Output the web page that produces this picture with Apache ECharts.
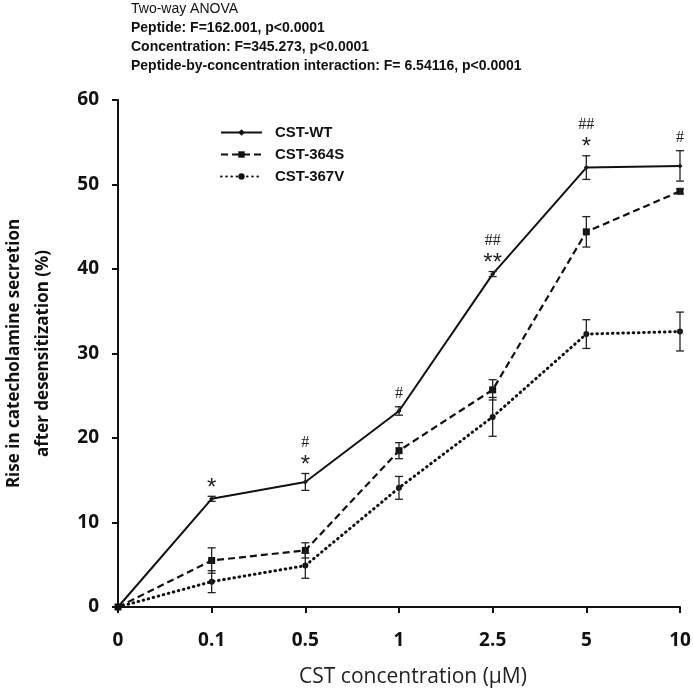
<!DOCTYPE html>
<html><head><meta charset="utf-8">
<script src="https://cdn.jsdelivr.net/npm/echarts@6/dist/echarts.min.js"></script>
<style>html,body{margin:0;padding:0;background:#fff}#c{width:693px;height:691px}</style>
</head><body><div id="c"></div>
<script>
const categories = ['0', '0.1', '0.5', '1', '2.5', '5', '10'];
const yTicks = [0, 10, 20, 30, 40, 50, 60];
const seriesNames = ['CST-WT', 'CST-364S', 'CST-367V'];
const wtValues = [0, 12.8, 14.8, 23.2, 39.4, 52.0, 52.2];
const wtErrors = [0, 0.3, 1.0, 0.5, 0.3, 1.4, 1.8];
const s364Values = [0, 5.5, 6.7, 18.5, 25.7, 44.4, 49.2];
const s364Errors = [0, 1.5, 0.9, 0.95, 1.2, 1.8, 0.3];
const s367Values = [0, 3.0, 4.9, 14.1, 22.5, 32.3, 32.6];
const s367Errors = [0, 1.3, 1.5, 1.35, 2.3, 1.7, 2.3];
const wtStars = ['', '*', '*', '', '**', '*', ''];
const wtHashes = ['', '', '#', '#', '##', '##', '#'];
const headerLines = [
  'Two-way ANOVA',
  'Peptide: F=162.001, p<0.0001',
  'Concentration: F=345.273, p<0.0001',
  'Peptide-by-concentration interaction: F= 6.54116, p<0.0001'
];

const chart = echarts.init(document.getElementById('c'));

function errSeries(values, errors, withAnno) {
  return {
    type: 'custom',
    z: 5,
    silent: true,
    data: values.map((v, i) => [i, v, errors[i]]),
    renderItem: function (params, api) {
      const i = api.value(0), v = api.value(1), e = api.value(2);
      const top = api.coord([i, v + e]);
      const bot = api.coord([i, v - e]);
      const w = 4;
      const st = { stroke: '#222', lineWidth: 1.3 };
      const children = [];
      if (e > 0) {
        children.push({ type: 'line', shape: { x1: top[0], y1: top[1], x2: bot[0], y2: bot[1] }, style: st });
        children.push({ type: 'line', shape: { x1: top[0] - w, y1: top[1], x2: top[0] + w, y2: top[1] }, style: st });
        children.push({ type: 'line', shape: { x1: bot[0] - w, y1: bot[1], x2: bot[0] + w, y2: bot[1] }, style: st });
      }
      if (withAnno) {
        const idx = params.dataIndex;
        const star = wtStars[idx], hash = wtHashes[idx];
        let y = top[1] - 13;
        if (star) {
          children.push({ type: 'text', style: { text: star, x: top[0], y: y + 5, align: 'center', verticalAlign: 'middle', fontSize: 24, fontFamily: 'Liberation Sans', fill: '#222' } });
          y -= 18;
        }
        if (hash) {
          children.push({ type: 'text', style: { text: hash, x: top[0], y: y, align: 'center', verticalAlign: 'middle', fontSize: 16, fontFamily: 'Liberation Serif', fill: '#222' } });
        }
      }
      return { type: 'group', children: children };
    }
  };
}

const option = {
  animation: false,
  backgroundColor: '#fff',
  title: {
    left: 126, top: -5,
    text: headerLines.map((t, i) => i === 0 ? '{a|' + t + '}' : '{b|' + t + '}').join('\n'),
    textStyle: {
      rich: {
        a: { fontFamily: 'Liberation Sans', fontSize: 14, fontWeight: 'normal', color: '#111', lineHeight: 19 },
        b: { fontFamily: 'Liberation Sans', fontSize: 14, fontWeight: 'bold', color: '#111', lineHeight: 19 }
      }
    }
  },
  legend: {
    orient: 'vertical', left: 220, top: 125, padding: 0,
    itemWidth: 41, itemHeight: 8, itemGap: 7,
    data: seriesNames,
    textStyle: { fontFamily: 'Liberation Sans', fontSize: 15, fontWeight: 'bold', color: '#111', padding: [0, 0, 0, 8] }
  },
  grid: { left: 118, right: 13, top: 100, bottom: 84, outerBoundsMode: 'none', containLabel: false },
  xAxis: {
    type: 'category', data: categories, boundaryGap: false,
    axisLine: { lineStyle: { color: '#111', width: 2 } },
    axisTick: { show: true, alignWithLabel: true, length: 6, lineStyle: { color: '#111', width: 2 } },
    axisLabel: { margin: 24, fontFamily: 'Open Sans', fontWeight: 'bold', fontSize: 19, color: '#111' },
    name: 'CST concentration (μM)', nameLocation: 'middle', nameGap: 60, nameMoveOverlap: false,
    nameTextStyle: { fontFamily: 'Open Sans', fontSize: 21, color: '#222', padding: [0, 0, 0, 28] }
  },
  yAxis: {
    type: 'value', min: yTicks[0], max: yTicks[yTicks.length - 1], interval: 10,
    splitLine: { show: false },
    axisLine: { show: true, lineStyle: { color: '#111', width: 2 } },
    axisTick: { show: true, length: 6, lineStyle: { color: '#111', width: 2 } },
    axisLabel: { margin: 19, fontFamily: 'Open Sans', fontWeight: 'bold', fontSize: 19, color: '#111' },
    name: 'Rise in catecholamine secretion\nafter desensitization (%)',
    nameLocation: 'middle', nameGap: 60, nameMoveOverlap: false,
    nameTextStyle: { fontFamily: 'Open Sans', fontWeight: 'bold', fontSize: 17, color: '#111', lineHeight: 29 }
  },
  series: [
    { name: seriesNames[0], type: 'line', data: wtValues, symbol: 'diamond', symbolSize: 5,
      lineStyle: { color: '#111', width: 2 }, itemStyle: { color: '#111' }, z: 4 },
    { name: seriesNames[1], type: 'line', data: s364Values, symbol: 'rect', symbolSize: 7,
      lineStyle: { color: '#111', width: 2.2, type: [7, 4] }, itemStyle: { color: '#111' }, z: 3 },
    { name: seriesNames[2], type: 'line', data: s367Values, symbol: 'circle', symbolSize: 6,
      lineStyle: { color: '#111', width: 3, type: [0.6, 4.6], cap: 'round' }, itemStyle: { color: '#111' }, z: 3 },
    errSeries(wtValues, wtErrors, true),
    errSeries(s364Values, s364Errors, false),
    errSeries(s367Values, s367Errors, false)
  ]
};
chart.setOption(option);
</script>
</body></html>
